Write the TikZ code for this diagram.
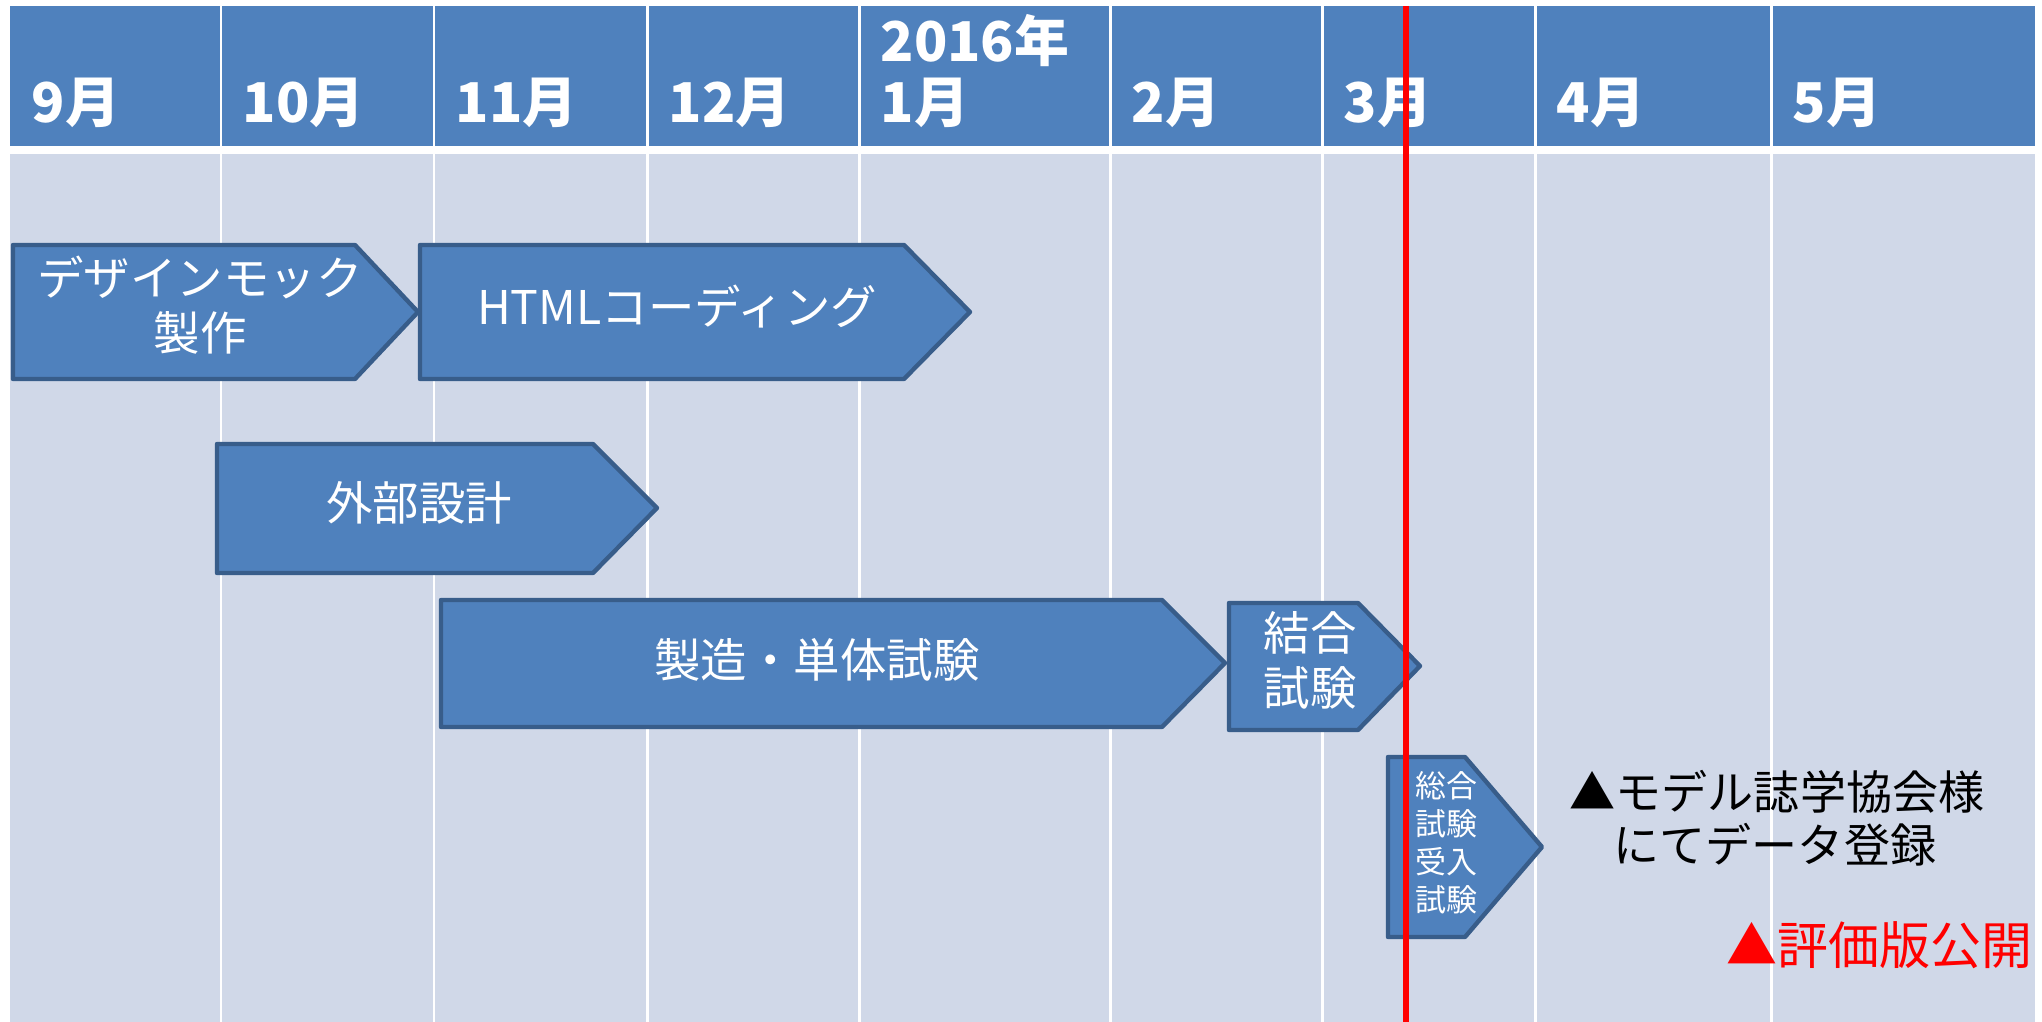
\documentclass[tikz,border=0pt]{standalone}
\usepackage{fontspec}
\setmainfont{Noto Sans CJK JP}
\definecolor{hdr}{HTML}{4F81BD}
\definecolor{bodyc}{HTML}{D0D8E8}
\definecolor{edgec}{HTML}{385D8A}
\definecolor{redc}{HTML}{FF0000}
\begin{document}
\begin{tikzpicture}[x=0.01cm,y=-0.01cm,
  chev/.style={fill=hdr, draw=edgec, line width=1.25pt, line join=round},
  lbl/.style={text=white, align=center, inner sep=0pt, font=\fontsize{13.2}{15.6}\selectfont},
  small/.style={text=white, align=center, inner sep=0pt, font=\fontsize{8.8}{10.8}\selectfont},
  mon/.style={text=white, anchor=west, inner sep=0pt, font=\fontsize{15.6}{17}\selectfont\bfseries},
  note/.style={anchor=west, inner sep=0pt, font=\fontsize{13.1}{15}\selectfont},
  divider/.style={white, line width=0.85pt},
]
\useasboundingbox (0,0) rectangle (2042,1022);
\fill[white] (0,0) rectangle (2042,1022);
% header and body
\fill[hdr] (10,6) rectangle (2035,146);
\fill[bodyc] (10,154) rectangle (2035,1022);
\foreach \x in {221,434,647,859,1110,1322,1535,1771}{
  \draw[divider] (\x,6) -- (\x,146);
  \draw[divider] (\x,154) -- (\x,1022);
}
% month labels
\node[mon] (m9) at (31,103) {9月};
\node[mon] (m10) at (242,103) {10月};
\node[mon] (m11) at (455,103) {11月};
\node[mon] (m12) at (668,103) {12月};
\node[mon] (y16) at (880,41) {2016年};
\node[mon] (m1) at (880,103) {1月};
\node[mon] (m2) at (1131,103) {2月};
\node[mon] (m3) at (1343,103) {3月};
\node[mon] (m4) at (1556,103) {4月};
\node[mon] (m5) at (1792,103) {5月};
% chevrons
\draw[chev] (13,245) -- (355,245) -- (418,312) -- (355,379) -- (13,379) -- cycle;
\draw[chev] (420,245) -- (904,245) -- (970,312) -- (904,379) -- (420,379) -- cycle;
\draw[chev] (217,444) -- (593,444) -- (657,508) -- (593,573) -- (217,573) -- cycle;
\draw[chev] (441,600) -- (1162,600) -- (1225,663) -- (1162,727) -- (441,727) -- cycle;
\draw[chev] (1229,603) -- (1358,603) -- (1420,666) -- (1358,730) -- (1229,730) -- cycle;
\draw[chev] (1388,757) -- (1465,757) -- (1542,847) -- (1465,937) -- (1388,937) -- cycle;
% red line
\draw[redc, line width=1.85pt] (1406,6) -- (1406,1022);
% labels
\node[lbl] (t1) at (200,305) {デザインモック\\製作};
\node[lbl] (t2) at (677,307) {HTMLコーディング};
\node[lbl] (t3) at (419,503) {外部設計};
\node[lbl] (t4) at (817,660) {製造・単体試験};
\node[lbl] (t5) at (1310,660) {結合\\試験};
\node[small] (t6) at (1446,843) {総合\\試験\\受入\\試験};
\node[note] (n1) at (1569,792) {▲モデル誌学協会様};
\node[note] (n2) at (1613,845) {にてデータ登録};
\node[note, text=redc, font=\fontsize{14.5}{16}\selectfont] (n3) at (1726,945) {▲評価版公開};
\end{tikzpicture}
\end{document}
